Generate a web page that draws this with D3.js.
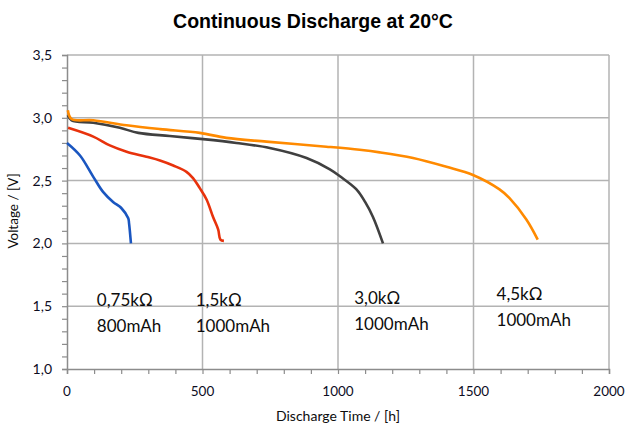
<!DOCTYPE html>
<html>
<head>
<meta charset="utf-8">
<script src="https://cdn.jsdelivr.net/npm/d3@7"></script>
<style>
  body { margin: 0; background: #fff; }
  text { font-family: Lato, "Open Sans", sans-serif; }
</style>
</head>
<body>
<div id="fig"></div>
<script>
const fig_width = 627
const fig_height = 427

// x plot range (px) and y plot range
const plot = {left: 67, right: 609, top: 55, bottom: 369}

// Discharge curves: [time h, voltage V]
let curve_075k = [[0, 2.80], [48, 2.70], [97, 2.53], [133, 2.41], [170, 2.33], [201, 2.28],
    [226, 2.20], [229, 2.16], [236, 2.00]]
let curve_15k = [[4, 2.92], [97, 2.85], [158, 2.78], [220, 2.73], [293, 2.69], [343, 2.66],
    [392, 2.62], [441, 2.57], [465, 2.52], [490, 2.44], [515, 2.35], [539, 2.21],
    [558, 2.11], [566, 2.03], [579, 2.02]]
let curve_30k = [[3, 3.02], [17, 2.98], [97, 2.96], [195, 2.92], [263, 2.88], [379, 2.855],
    [502, 2.83], [625, 2.80], [748, 2.76], [884, 2.68], [970, 2.59], [1010, 2.53],
    [1068, 2.43], [1100, 2.33], [1129, 2.21], [1166, 2.00]]
let curve_45k = [[3, 3.06], [17, 2.99], [97, 2.98], [220, 2.94], [343, 2.91], [490, 2.88],
    [588, 2.84], [736, 2.81], [957, 2.77], [1080, 2.745], [1154, 2.725], [1277, 2.68],
    [1400, 2.61], [1498, 2.545], [1596, 2.43], [1633, 2.36], [1695, 2.19], [1737, 2.03]]

let series_names = ['0,75kΩ', '1,5kΩ', '3,0kΩ', '4,5kΩ']
let series_caps = ['800mAh', '1000mAh', '1000mAh', '1000mAh']
let series_data = [curve_075k, curve_15k, curve_30k, curve_45k]
// label anchor in data units [time, voltage]
let label_pos = [[110, 1.50], [475, 1.50], [1060, 1.52], [1585, 1.55]]

let x_ticks = [0, 500, 1000, 1500, 2000]
let y_ticks = [1.0, 1.5, 2.0, 2.5, 3.0, 3.5]

let colourScale = d3.scaleOrdinal()
    .domain(series_names)
    .range(['#1a56c0', '#e8320c', '#404040', '#ff8a00'])

let x = d3.scaleLinear().domain([0, 2000]).range([plot.left, plot.right])
let y = d3.scaleLinear().domain([1.0, 3.5]).range([plot.bottom, plot.top])

let fig = d3.select('#fig')
    .append('svg')
    .attr('width', fig_width)
    .attr('height', fig_height)

// gridlines first so curves sit on top
fig.append('g')
    .selectAll('line.hgrid')
    .data(y_ticks.slice(1))
    .join('line')
    .attr('class', 'hgrid')
    .attr('x1', plot.left).attr('x2', plot.right)
    .attr('y1', d => y(d)).attr('y2', d => y(d))
    .style('stroke', '#b3b3b3').style('stroke-width', 1.5)

fig.append('g')
    .selectAll('line.vgrid')
    .data(x_ticks.slice(1))
    .join('line')
    .attr('class', 'vgrid')
    .attr('x1', d => x(d)).attr('x2', d => x(d))
    .attr('y1', plot.top).attr('y2', plot.bottom)
    .style('stroke', '#b3b3b3').style('stroke-width', 1.5)

// axes with minor ticks every 100h / 0.1V
let xAxis = d3.axisBottom(x).ticks(20).tickSize(5).tickFormat('')
let yAxis = d3.axisLeft(y).ticks(25).tickSize(5).tickFormat('')

let gx = fig.append('g').attr('transform', `translate(0,${plot.bottom})`).call(xAxis)
let gy = fig.append('g').attr('transform', `translate(${plot.left},0)`).call(yAxis)
for (let g of [gx, gy]) {
    g.select('.domain').style('stroke', '#8c8c8c').style('stroke-width', 1.5)
    g.selectAll('.tick line').style('stroke', '#8c8c8c').style('stroke-width', 1.2)
}

fig.append('g')
    .selectAll('text')
    .data(x_ticks)
    .join('text')
    .attr('x', d => x(d))
    .attr('y', 396)
    .attr('text-anchor', 'middle')
    .style('font-size', '13.5px')
    .style('fill', '#0d0d1f')
    .text(d => d)

fig.append('g')
    .selectAll('text')
    .data(y_ticks)
    .join('text')
    .attr('x', 52)
    .attr('y', d => y(d) + 5)
    .attr('text-anchor', 'end')
    .style('font-size', '14px')
    .style('fill', '#0d0d1f')
    .text(d => d.toFixed(1).replace('.', ','))

// axis titles
fig.append('text')
    .attr('x', 338).attr('y', 421)
    .attr('text-anchor', 'middle')
    .style('font-size', '14px')
    .style('fill', '#0d0d0d')
    .text('Discharge Time / [h]')

fig.append('text')
    .attr('transform', 'translate(18,211) rotate(-90)')
    .attr('text-anchor', 'middle')
    .style('font-size', '13.5px')
    .style('fill', '#0d0d0d')
    .text('Voltage / [V]')

// chart title
fig.append('text')
    .attr('x', 313).attr('y', 28)
    .attr('text-anchor', 'middle')
    .style('font-family', '"Liberation Sans", Arial, sans-serif')
    .style('font-weight', 'bold')
    .style('font-size', '19.5px')
    .style('fill', '#000')
    .text('Continuous Discharge at 20°C')

// discharge curves
let line = d3.line()
    .x(d => x(d[0]))
    .y(d => y(d[1]))
    .curve(d3.curveCatmullRom.alpha(0.5))

fig.append('g')
    .selectAll('path.curve')
    .data(series_data)
    .join('path')
    .attr('class', 'curve')
    .attr('d', line)
    .style('fill', 'none')
    .style('stroke', (d, i) => colourScale(series_names[i]))
    .style('stroke-width', 2.6)
    .style('stroke-linejoin', 'round')

// resistor / capacity labels
let labels = fig.append('g')
    .selectAll('g.lbl')
    .data(series_names)
    .join('g')
    .attr('class', 'lbl')
    .attr('transform', (d, i) => `translate(${x(label_pos[i][0])},${y(label_pos[i][1])})`)

labels.append('text')
    .attr('y', 0)
    .style('font-size', '17px')
    .style('fill', '#0d0d0d')
    .text(d => d)

labels.append('text')
    .attr('y', 26)
    .style('font-size', '17px')
    .style('fill', '#0d0d0d')
    .text((d, i) => series_caps[i])
</script>
</body>
</html>
